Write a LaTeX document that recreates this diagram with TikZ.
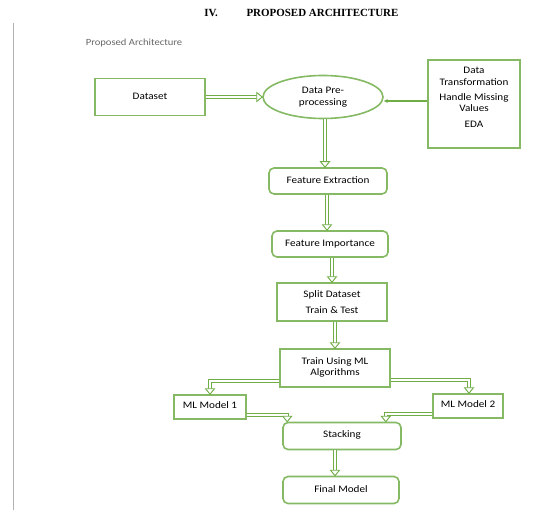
\documentclass[tikz,border=0pt]{standalone}
\usepackage{fontspec}
\setmainfont[FakeStretch=1.12]{Carlito}
\newfontfamily\titlefont{Liberation Serif}
\usetikzlibrary{arrows.meta,shapes.geometric,calc,decorations.markings}
\definecolor{lgreen}{HTML}{70AD47}
\definecolor{lgray}{HTML}{666666}
\begin{document}
\begin{tikzpicture}[x=1bp,y=-1bp,
  every node/.style={font=\fontsize{10}{11.5}\selectfont, inner sep=0pt},
  box/.style={draw=lgreen!85, line width=1.6bp, rectangle, align=center},
  rbox/.style={box, rounded corners=5bp},
  dbl/.style={draw=lgreen, line width=4bp, shorten >=5bp,
    postaction={draw=white, line width=2bp, shorten >=5bp},
    postaction={decorate, decoration={markings, mark=at position 1 with
      {\draw[lgreen, line width=0.9bp, fill=white, line join=miter] (0bp,0bp) -- (-5.5bp,4.5bp) -- (-5.5bp,-4.5bp) -- cycle;}}}},
  sgl/.style={draw=lgreen, line width=1.2bp, -{Stealth[length=4bp,width=4bp]}}]
\useasboundingbox (0,0) rectangle (539,517);
% header
\node[font=\titlefont\bfseries\fontsize{11}{12}\selectfont] (num) at (211,13) {IV.};
\node[font=\titlefont\bfseries\fontsize{11}{12}\selectfont] (title) at (322.5,13) {PROPOSED ARCHITECTURE};
\coordinate (lt) at (13.5,23);
\coordinate (lb) at (13.5,510);
\draw[lgray!50, line width=1bp] (lt) -- (lb);
\node[text=lgray, font=\fontsize{9.5}{11}\selectfont] (cap) at (134,43) {Proposed Architecture};
% nodes
\node[box, minimum width=110bp, minimum height=37bp] (dataset) at (150,97) {\raisebox{2pt}{Dataset}};
\node[draw=lgreen!85, line width=1.6bp, ellipse, minimum width=120bp, minimum height=43bp, align=center] (pre) at (323,97) {Data Pre-\\processing};
\node[box, minimum width=92bp, minimum height=88bp] (eda) at (474,104) {};
\node[align=center, anchor=north] (edatext) at (474,67) {Data\\Transformation\\[4pt]Handle Missing\\Values\\[4pt]EDA};
\node[rbox, minimum width=118bp, minimum height=26bp] (fe) at (328,181) {\raisebox{2pt}{Feature Extraction}};
\node[rbox, minimum width=116bp, minimum height=26bp] (fi) at (330,244) {\raisebox{2pt}{Feature Importance}};
\node[box, minimum width=110bp, minimum height=38bp] (split) at (332,302) {Split Dataset\\[4pt]Train \& Test};
\node[box, minimum width=110bp, minimum height=38bp] (train) at (335,368) {\raisebox{3pt}{\shortstack{Train Using ML\\Algorithms}}};
\node[box, minimum width=72bp, minimum height=24bp] (ml1) at (210,407) {\raisebox{3pt}{ML Model 1}};
\node[box, minimum width=70bp, minimum height=24bp] (ml2) at (468,406) {\raisebox{3pt}{ML Model 2}};
\node[rbox, minimum width=118bp, minimum height=27bp] (stack) at (342,436) {\raisebox{3pt}{Stacking}};
\node[rbox, minimum width=116bp, minimum height=27bp] (final) at (341,490) {\raisebox{2pt}{Final Model}};
% connectors
\coordinate (edaout) at ([yshift=3bp]eda.west);
\draw[dbl] (dataset.east) -- (pre.west);
\draw[sgl] (edaout) -- (pre.east |- edaout);
\draw[dbl] ([xshift=2bp]pre.south) -- ([xshift=2bp]pre.south |- fe.north);
\draw[dbl] ([xshift=-1bp]fe.south) -- ([xshift=-1bp]fe.south |- fi.north);
\draw[dbl] (split.north |- fi.south) -- (split.north);
\draw[dbl] (train.north |- split.south) -- (train.north);
\draw[dbl] ([yshift=-13bp]train.west) -| (ml1.north);
\draw[dbl] ([yshift=-12bp]train.east) -| ([xshift=1bp]ml2.north);
\draw[dbl] ([yshift=-8bp]ml1.east) -| ([xshift=5bp]stack.north west);
\draw[dbl] ([yshift=-8bp]ml2.west) -| ([xshift=-16bp]stack.north east);
\draw[dbl] ([xshift=-7bp]stack.south) -- ([xshift=-7bp]stack.south |- final.north);
\end{tikzpicture}
\end{document}
